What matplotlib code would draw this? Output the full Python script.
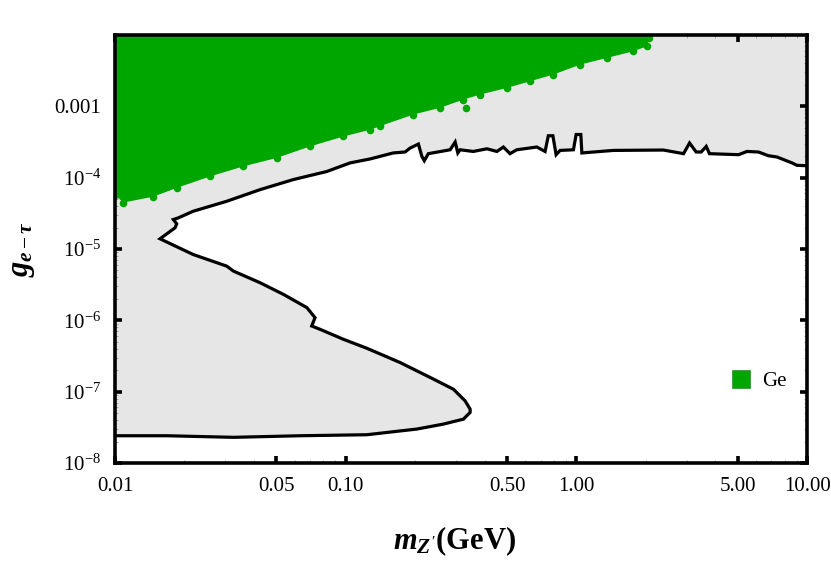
import matplotlib
matplotlib.use("Agg")
import matplotlib.pyplot as plt
from matplotlib.lines import Line2D
from matplotlib.ticker import FixedLocator, FixedFormatter, LogLocator, NullFormatter

plt.rcParams['font.family'] = ['Liberation Serif', 'DejaVu Serif']
plt.rcParams['mathtext.fontset'] = 'custom'
plt.rcParams['mathtext.rm'] = 'Liberation Serif'
plt.rcParams['mathtext.it'] = 'Liberation Serif:italic:bold'
plt.rcParams['mathtext.bf'] = 'Liberation Serif:bold'

# ---------------- data ----------------
# exclusion contour (m_Z' in GeV, coupling g)
contour_m = [0.01, 0.01675, 0.0326, 0.0634, 0.1234, 0.2032, 0.265, 0.3236, 0.346, 0.346,
             0.329, 0.293, 0.240, 0.172, 0.1234, 0.0977, 0.0774, 0.0712, 0.0736, 0.0678,
             0.0537, 0.0425, 0.0326, 0.0305, 0.0218, 0.01567, 0.0182, 0.01851, 0.0179, 0.0188,
             0.0218, 0.0305, 0.0425, 0.0591, 0.0827, 0.1044, 0.1275, 0.1604, 0.1808, 0.190,
             0.2065, 0.2137, 0.219, 0.228, 0.2834, 0.298, 0.306, 0.313, 0.357, 0.409,
             0.452, 0.482, 0.515, 0.551, 0.673, 0.731, 0.755, 0.790, 0.816, 0.849,
             0.970, 0.9966, 1.044, 1.055, 1.267, 1.446, 2.38, 2.91, 3.09, 3.30,
             3.47, 3.65, 3.77, 5.04, 5.48, 6.15, 6.79, 7.39, 8.59, 9.02, 10.0]
contour_g = [2.41e-8, 2.41e-8, 2.29e-8, 2.41e-8, 2.49e-8, 2.99e-8, 3.51e-8, 4.12e-8, 5.12e-8, 5.69e-8,
             7.43e-8, 1.08e-7, 1.50e-7, 2.56e-7, 4.06e-7, 5.42e-7, 7.48e-7, 8.33e-7, 1.09e-6, 1.51e-6,
             2.31e-6, 3.37e-6, 4.90e-6, 5.75e-6, 8.38e-6, 1.39e-5, 1.98e-5, 2.25e-5, 2.59e-5, 2.73e-5,
             3.38e-5, 4.67e-5, 6.79e-5, 9.38e-5, 1.22e-4, 1.61e-4, 1.83e-4, 2.22e-4, 2.29e-4, 2.60e-4,
             2.96e-4, 1.99e-4, 1.73e-4, 2.17e-4, 2.46e-4, 3.16e-4, 2.22e-4, 2.46e-4, 2.33e-4, 2.54e-4,
             2.33e-4, 2.69e-4, 2.17e-4, 2.46e-4, 2.69e-4, 2.33e-4, 3.87e-4, 3.87e-4, 2.10e-4, 2.41e-4,
             2.46e-4, 4.03e-4, 4.03e-4, 2.22e-4, 2.33e-4, 2.41e-4, 2.44e-4, 2.17e-4, 3.06e-4, 2.29e-4,
             2.29e-4, 2.74e-4, 2.17e-4, 2.10e-4, 2.33e-4, 2.29e-4, 2.03e-4, 1.95e-4, 1.61e-4, 1.49e-4, 1.47e-4]

# lower edge of the Ge scan points
ge_edge_m = [0.01, 0.01086, 0.01466, 0.01851, 0.0258, 0.036, 0.0502, 0.070, 0.0977, 0.1275,
             0.1409, 0.1964, 0.2564, 0.3236, 0.382, 0.499, 0.630, 0.794, 1.037, 1.355,
             1.766, 2.02, 2.07]
ge_edge_g = [5.78e-5, 4.47e-5, 5.42e-5, 7.18e-5, 1.04e-4, 1.44e-4, 1.89e-4, 2.74e-4, 3.78e-4, 4.69e-4,
             5.28e-4, 7.68e-4, 9.53e-4, 1.245e-3, 1.46e-3, 1.81e-3, 2.25e-3, 2.79e-3, 3.84e-3, 4.77e-3,
             5.92e-3, 6.95e-3, 9.08e-3]
ge_extra_m = [0.3325]
ge_extra_g = [9.53e-4]

xlim = (0.01, 10.0)
ylim = (1e-8, 1e-2)
xticks = [0.01, 0.05, 0.10, 0.50, 1.00, 5.00, 10.00]
xticklabels = ["0.01", "0.05", "0.10", "0.50", "1.00", "5.00", "10.00"]
yticks = [1e-8, 1e-7, 1e-6, 1e-5, 1e-4, 1e-3]
yticklabels = [r"$10^{-8}$", r"$10^{-7}$", r"$10^{-6}$", r"$10^{-5}$", r"$10^{-4}$", "0.001"]

assert len(contour_m) == len(contour_g)
assert len(ge_edge_m) == len(ge_edge_g)

# ---------------- figure ----------------
GREEN = "#00a600"
GRAY = "#e6e6e6"

fig = plt.figure(figsize=(8.31, 5.61), dpi=100)
ax = fig.add_axes([0.1384, 0.1747, 0.8330, 0.7629])
ax.set_xscale('log')
ax.set_yscale('log')
ax.set_xlim(*xlim)
ax.set_ylim(*ylim)

# gray region: everything above/left of the contour
poly_m = list(contour_m) + [xlim[1], xlim[0]]
poly_g = list(contour_g) + [ylim[1], ylim[1]]
ax.fill(poly_m, poly_g, color=GRAY, lw=0, zorder=1)

# Ge points region (above its lower edge)
ge_m = list(ge_edge_m) + [ge_edge_m[-1], xlim[0]]
ge_g = list(ge_edge_g) + [ylim[1], ylim[1]]
ax.fill(ge_m, ge_g, color=GREEN, lw=0, zorder=2)
ax.scatter(ge_edge_m, ge_edge_g, s=30, color=GREEN, lw=0, zorder=2)
ax.scatter(ge_extra_m, ge_extra_g, s=30, color=GREEN, lw=0, zorder=2)

# contour line
ax.plot(contour_m, contour_g, color='black', lw=2.3, zorder=3, solid_joinstyle='miter')

# axes styling
for sp in ax.spines.values():
    sp.set_linewidth(2.6)
    sp.set_zorder(5)

ax.xaxis.set_major_locator(FixedLocator(xticks))
ax.xaxis.set_major_formatter(FixedFormatter(xticklabels))
ax.yaxis.set_major_locator(FixedLocator(yticks))
ax.yaxis.set_major_formatter(FixedFormatter(yticklabels))
ax.xaxis.set_minor_locator(LogLocator(base=10, subs=range(1, 10)))
ax.yaxis.set_minor_locator(LogLocator(base=10, subs=range(2, 10)))
ax.xaxis.set_minor_formatter(NullFormatter())
ax.yaxis.set_minor_formatter(NullFormatter())

ax.tick_params(which='major', direction='in', top=True, right=True,
               length=5, width=2.6, labelsize=15, pad=10)
ax.tick_params(which='minor', direction='in', top=True, right=True,
               length=2.5, width=0.6, color='#999999')

ax.set_xlabel(r"$m_{Z'}$(GeV)", fontsize=22, fontweight='bold')
ax.xaxis.set_label_coords(0.49, -0.143)
ax.set_ylabel(r"$g_{e-\tau}$", fontsize=22)
ax.yaxis.set_label_coords(-0.112, 0.5)

handle = Line2D([], [], marker='s', ls='none', markersize=13,
                markerfacecolor=GREEN, markeredgecolor='#2a8a2a', markeredgewidth=0.5)
ax.legend([handle], ["Ge"], loc='center', bbox_to_anchor=(0.93, 0.19),
          frameon=False, fontsize=15, handletextpad=0.5, borderpad=0, handlelength=1.0)

fig.savefig("out.png", dpi=100)
